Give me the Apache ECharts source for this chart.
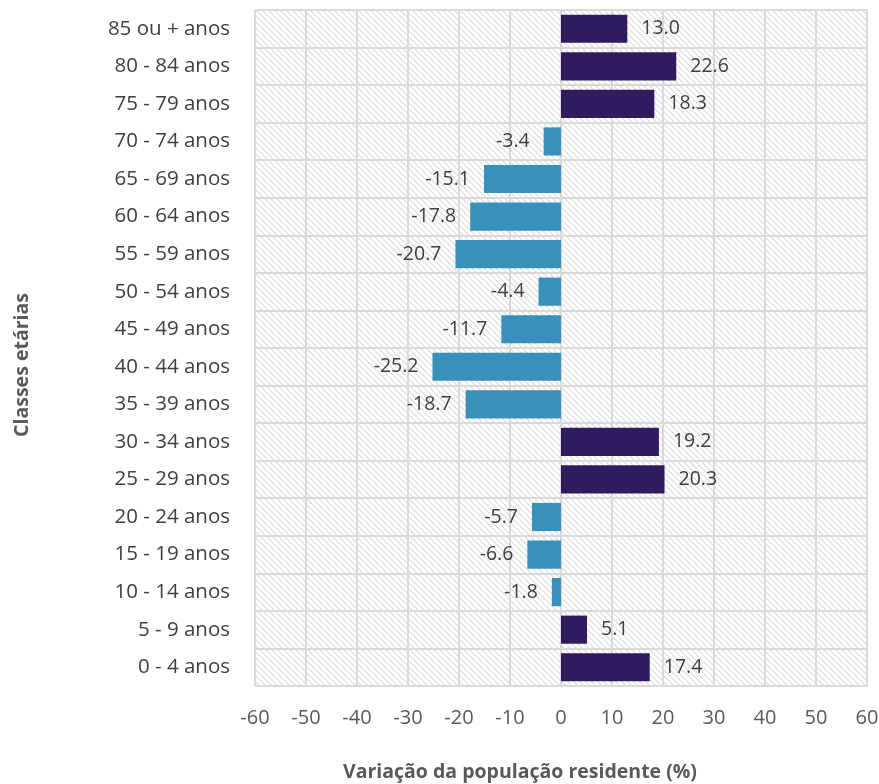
<!DOCTYPE html>
<html><head><meta charset="utf-8">
<script src="https://cdn.jsdelivr.net/npm/echarts@6/dist/echarts.min.js"></script>
<style>html,body{margin:0;padding:0;background:#fff}#c{width:879px;height:784px}</style>
</head><body><div id="c"></div>
<script>
const categories = ['0 - 4 anos','5 - 9 anos','10 - 14 anos','15 - 19 anos','20 - 24 anos','25 - 29 anos','30 - 34 anos','35 - 39 anos','40 - 44 anos','45 - 49 anos','50 - 54 anos','55 - 59 anos','60 - 64 anos','65 - 69 anos','70 - 74 anos','75 - 79 anos','80 - 84 anos','85 ou + anos'];
const values = [17.4, 5.1, -1.8, -6.6, -5.7, 20.3, 19.2, -18.7, -25.2, -11.7, -4.4, -20.7, -17.8, -15.1, -3.4, 18.3, 22.6, 13.0];
const xTicks = [-60,-50,-40,-30,-20,-10,0,10,20,30,40,50,60];
const xTitle = 'Variação da população residente (%)';
const yTitle = 'Classes etárias';

const posColor = '#311B5F', negColor = '#3791BB';
const FONT = '"Open Sans", "Liberation Sans", sans-serif';

// hatch pattern
const tile = document.createElement('canvas');
tile.width = 6; tile.height = 6;
const g = tile.getContext('2d');
g.fillStyle = '#ffffff'; g.fillRect(0,0,6,6);
g.strokeStyle = '#dadada'; g.lineWidth = 1.1;
g.beginPath();
g.moveTo(-1,-1); g.lineTo(7,7);
g.moveTo(-1,5); g.lineTo(1,7);
g.moveTo(5,-1); g.lineTo(7,1);
g.stroke();

const chart = echarts.init(document.getElementById('c'), null, {renderer:'canvas'});
const data = values.map(v => ({
  value: v,
  itemStyle: {color: v < 0 ? negColor : posColor},
  label: {position: v < 0 ? 'left' : 'right'}
}));
chart.setOption({
  animation: false,
  grid: {left: 255, right: 12, top: 10, bottom: 98, show: true, borderWidth: 0,
         outerBoundsMode: 'none', containLabel: false,
         backgroundColor: {image: tile, repeat: 'repeat'}},
  graphic: [
    {type: 'text', x: 520, y: 772, style: {text: xTitle, textAlign: 'center', textVerticalAlign: 'middle',
      font: 'bold 19.5px ' + FONT, fill: '#595959'}},
    {type: 'text', x: 22, y: 365, rotation: Math.PI / 2, style: {text: yTitle, textAlign: 'center', textVerticalAlign: 'middle',
      font: 'bold 19.5px ' + FONT, fill: '#595959'}}
  ],
  xAxis: {
    type: 'value', min: -60, max: 60, interval: 10,
    axisLine: {show: false}, axisTick: {show: false},
    splitLine: {show: true, lineStyle: {color: '#d9d9d9', width: 2}},
    axisLabel: {margin: 22, fontSize: 20, color: '#595959', fontFamily: FONT,
      formatter: v => xTicks.includes(v) ? String(v) : ''}
  },
  yAxis: {
    type: 'category', data: categories,
    axisLine: {show: false}, axisTick: {show: false},
    splitLine: {show: true, lineStyle: {color: '#d9d9d9', width: 2}},
    axisLabel: {margin: 25, fontSize: 20.5, color: '#404040', fontFamily: FONT}
  },
  series: [{
    type: 'bar', data: data, barCategoryGap: '25%',
    label: {show: true, distance: 14, fontSize: 19.5, color: '#404040', fontFamily: FONT,
      formatter: p => p.value.toFixed(1)}
  }]
});
</script></body></html>
